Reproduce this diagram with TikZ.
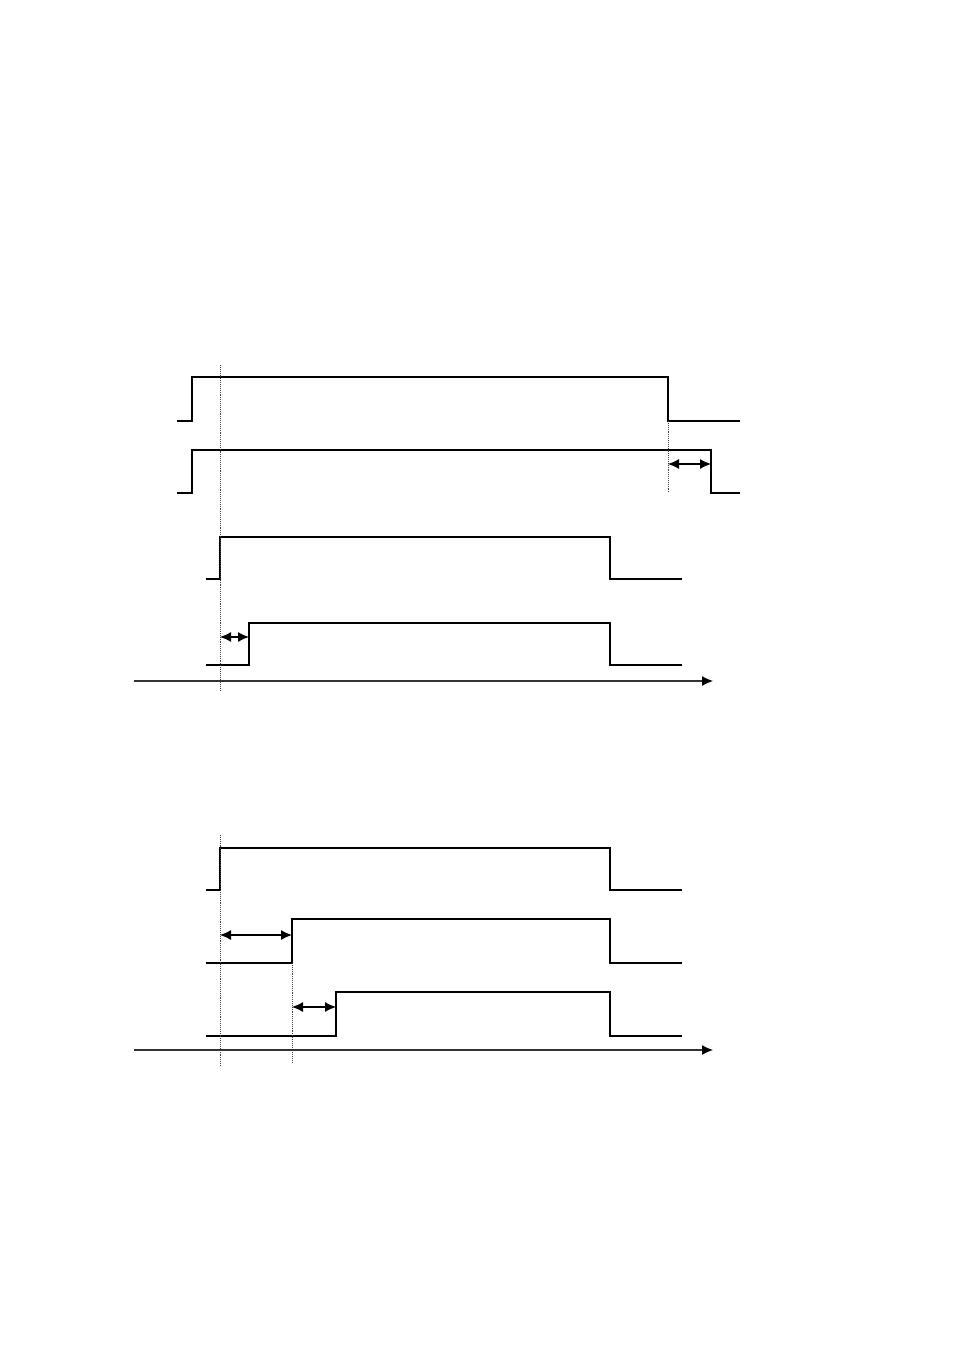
\documentclass[tikz,border=0pt]{standalone}
\usepackage{tikz}
\usetikzlibrary{arrows.meta}
\tikzset{
  wave/.style = {draw=black, line width=1.2pt, line join=miter},% signal
  guide/.style = {draw=black!75, densely dotted, line width=0.9pt},% repere vertical
  delay/.style = {{Latex[length=11pt,width=10pt]}-{Latex[length=11pt,width=10pt]}, line width=1.1pt},% retard
  axis/.style = {-{Latex[length=11pt,width=10pt,fill=black,color=black]}, draw=black!80, line width=1.1pt}% axe du temps
}

\begin{document}
\begin{tikzpicture}[x=1pt,y=-1pt]
\useasboundingbox (0,0) rectangle (954,1351);
% haut : signaux
\foreach \xa/\xr/\xf/\xb/\yl/\yh in {177/192/668/740/421/377, 177/192/711/740/493/450,
    206/220/610/682/579/537, 206/249/610/682/665/623}
  \draw[wave] (\xa,\yl) -- (\xr,\yl) -- (\xr,\yh) -- (\xf,\yh) -- (\xf,\yl) -- (\xb,\yl);
% haut : reperes et retards
\coordinate (g1t) at (220,365);
\coordinate (g1b) at (220,690);
\coordinate (g2t) at (668,421);
\coordinate (g2b) at (668,492);
\draw[guide] (g1t) -- (g1b);
\draw[guide] (g2t) -- (g2b);
\coordinate (d1a) at (668,464);
\coordinate (d1b) at (711,464);
\draw[delay] (d1a) -- (d1b);
\coordinate (d2a) at (220,637);
\coordinate (d2b) at (249,637);
\draw[delay] (d2a) -- (d2b);
\coordinate (t1a) at (134,681);
\coordinate (t1b) at (713,681);
\draw[axis] (t1a) -- (t1b);
% bas : signaux
\foreach \xa/\xr/\xf/\xb/\yl/\yh in {206/220/610/682/890/848, 206/292/610/682/963/919,
    206/336/610/682/1036/992}
  \draw[wave] (\xa,\yl) -- (\xr,\yl) -- (\xr,\yh) -- (\xf,\yh) -- (\xf,\yl) -- (\xb,\yl);
% bas : reperes et retards
\coordinate (g3t) at (220,835);
\coordinate (g3b) at (220,1065);
\coordinate (g4t) at (292,963);
\coordinate (g4b) at (292,1063);
\draw[guide] (g3t) -- (g3b);
\draw[guide] (g4t) -- (g4b);
\coordinate (d3a) at (220,935);
\coordinate (d3b) at (292,935);
\draw[delay] (d3a) -- (d3b);
\coordinate (d4a) at (292,1007);
\coordinate (d4b) at (336,1007);
\draw[delay] (d4a) -- (d4b);
\coordinate (t2a) at (134,1050);
\coordinate (t2b) at (713,1050);
\draw[axis] (t2a) -- (t2b);
\end{tikzpicture}
\end{document}
